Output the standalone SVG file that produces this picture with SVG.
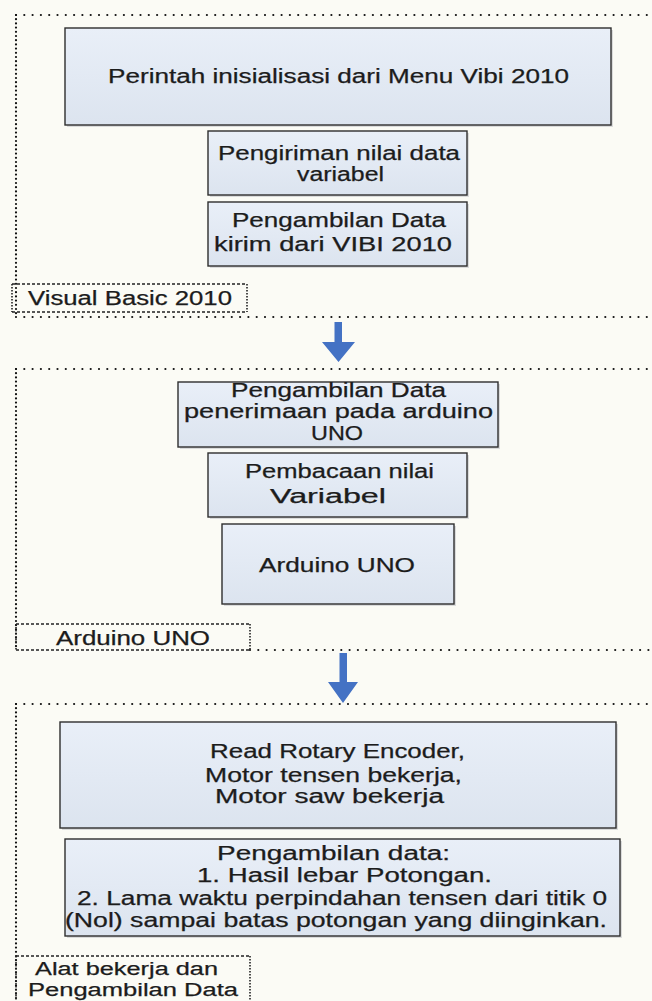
<svg xmlns="http://www.w3.org/2000/svg" width="652" height="1001" viewBox="0 0 652 1001">
<defs>
<linearGradient id="bf" x1="0" y1="0" x2="0" y2="1">
<stop offset="0" stop-color="#e9eff8"/>
<stop offset="1" stop-color="#dce4ef"/>
</linearGradient>
<style>
.bg{fill:#fbfbf5}
.box{fill:url(#bf);stroke:#2e2e2e;stroke-width:1.4}
.sh{fill:#b9bcc2;opacity:0.5}
.t{font-family:"Liberation Sans",Arial,sans-serif;font-size:19.5px;fill:#1c1c1c;stroke:#1c1c1c;stroke-width:0.25}
.s{font-size:18px}
.dh{fill:none;stroke:#111;stroke-width:2.2;stroke-linecap:round;stroke-dasharray:0 8.3}
.dv{fill:none;stroke:#111;stroke-width:2.2;stroke-linecap:round;stroke-dasharray:0 4.2}
.lh{fill:none;stroke:#222;stroke-width:1.3;stroke-dasharray:3 2}
.lv{fill:none;stroke:#222;stroke-width:1.6;stroke-dasharray:1.5 1.5}
.arr{fill:#4472c4}
</style>
</defs>
<rect class="bg" x="0" y="0" width="652" height="1001"/>

<g id="group-visual-basic">
<path class="dh" d="M16 15 H652"/>
<path class="dv" d="M16 15 V317"/>
<path class="dh" d="M16 317 H652"/>
</g>
<g id="label-visual-basic">
<path class="lh" d="M12 284 H247 M12 312 H247"/>
<path class="lv" d="M12 284 V312 M247 284 V312"/>
<text class="t" x="28" y="305" textLength="204" lengthAdjust="spacingAndGlyphs">Visual Basic 2010</text>
</g>
<g id="node-perintah">
<rect class="sh" x="67" y="30" width="546" height="97"/>
<rect class="box" x="65" y="28" width="546" height="97"/>
<text class="t" x="108" y="83" textLength="461" lengthAdjust="spacingAndGlyphs">Perintah inisialisasi dari Menu Vibi 2010</text>
</g>
<g id="node-pengiriman">
<rect class="sh" x="210" y="133" width="259" height="64"/>
<rect class="box" x="208" y="131" width="259" height="64"/>
<text class="t" x="218" y="160" textLength="242" lengthAdjust="spacingAndGlyphs">Pengiriman nilai data</text>
<text class="t" x="297" y="181" textLength="87" lengthAdjust="spacingAndGlyphs">variabel</text>
</g>
<g id="node-pengambilan-vibi">
<rect class="sh" x="210" y="204" width="259" height="64"/>
<rect class="box" x="208" y="202" width="259" height="64"/>
<text class="t" x="232" y="227" textLength="214" lengthAdjust="spacingAndGlyphs">Pengambilan Data</text>
<text class="t" x="214" y="251" textLength="238" lengthAdjust="spacingAndGlyphs">kirim dari VIBI 2010</text>
</g>

<g id="group-arduino">
<path class="dh" d="M16 369 H652"/>
<path class="dv" d="M16 369 V650"/>
<path class="dh" d="M250 650 H652"/>
</g>
<g id="label-arduino">
<path class="lh" d="M16 624 H250 M16 650 H250"/>
<path class="lv" d="M16 624 V650 M250 624 V650"/>
<text class="t" x="56" y="645" textLength="154" lengthAdjust="spacingAndGlyphs">Arduino UNO</text>
</g>
<g id="node-penerimaan">
<rect class="sh" x="180" y="384" width="320" height="65"/>
<rect class="box" x="178" y="382" width="320" height="65"/>
<text class="t" x="231" y="397" textLength="215" lengthAdjust="spacingAndGlyphs">Pengambilan Data</text>
<text class="t" x="184" y="418" textLength="309" lengthAdjust="spacingAndGlyphs">penerimaan pada arduino</text>
<text class="t" x="311" y="440" textLength="52" lengthAdjust="spacingAndGlyphs">UNO</text>
</g>
<g id="node-pembacaan">
<rect class="sh" x="210" y="455" width="259" height="64"/>
<rect class="box" x="208" y="453" width="259" height="64"/>
<text class="t" x="245" y="478" textLength="189" lengthAdjust="spacingAndGlyphs">Pembacaan nilai</text>
<text class="t" x="270" y="503" textLength="116" lengthAdjust="spacingAndGlyphs">Variabel</text>
</g>
<g id="node-arduino">
<rect class="sh" x="224" y="526" width="232" height="80"/>
<rect class="box" x="222" y="524" width="232" height="80"/>
<text class="t" x="259" y="572" textLength="156" lengthAdjust="spacingAndGlyphs">Arduino UNO</text>
</g>

<g id="group-alat">
<path class="dh" d="M16 704 H652"/>
<path class="dv" d="M16 704 V1001"/>
</g>
<g id="label-alat">
<path class="lh" d="M16 956 H250"/>
<path class="lv" d="M16 956 V1001 M250 956 V1001"/>
<text class="t s" x="35" y="975" textLength="183" lengthAdjust="spacingAndGlyphs">Alat bekerja dan</text>
<text class="t s" x="28" y="996" textLength="210" lengthAdjust="spacingAndGlyphs">Pengambilan Data</text>
</g>
<g id="node-read-rotary">
<rect class="sh" x="62" y="724" width="556" height="106"/>
<rect class="box" x="60" y="722" width="556" height="106"/>
<text class="t" x="210" y="758" textLength="255" lengthAdjust="spacingAndGlyphs">Read Rotary Encoder,</text>
<text class="t" x="205" y="782" textLength="257" lengthAdjust="spacingAndGlyphs">Motor tensen bekerja,</text>
<text class="t" x="215" y="803" textLength="229" lengthAdjust="spacingAndGlyphs">Motor saw bekerja</text>
</g>
<g id="node-pengambilan-data">
<rect class="sh" x="67" y="841" width="555" height="97"/>
<rect class="box" x="65" y="839" width="555" height="97"/>
<text class="t" x="217" y="860" textLength="233" lengthAdjust="spacingAndGlyphs">Pengambilan data:</text>
<text class="t" x="197" y="882" textLength="295" lengthAdjust="spacingAndGlyphs">1. Hasil lebar Potongan.</text>
<text class="t" x="77" y="905" textLength="530" lengthAdjust="spacingAndGlyphs">2. Lama waktu perpindahan tensen dari titik 0</text>
<text class="t" x="65" y="927" textLength="542" lengthAdjust="spacingAndGlyphs">(Nol) sampai batas potongan yang diinginkan.</text>
</g>

<g id="connectors">
<path class="arr" d="M334.5 322 H342 V342 H355 L338.5 362 L322 342 H334.5 Z"/>
<path class="arr" d="M339.5 653 H347 V682 H358 L343 703 L328 682 H339.5 Z"/>
</g>
</svg>
